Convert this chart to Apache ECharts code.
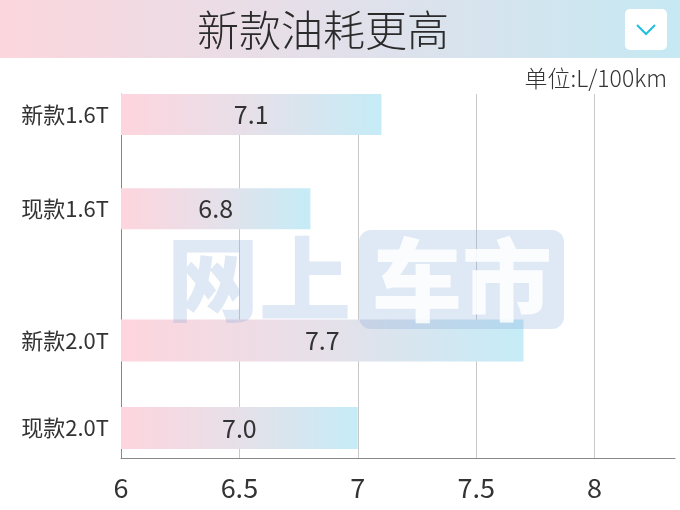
<!DOCTYPE html>
<html>
<head>
<meta charset="utf-8">
<script src="https://cdn.jsdelivr.net/npm/echarts@6/dist/echarts.min.js"></script>
<style>
html,body{margin:0;padding:0;background:#fff;}
#chart{width:680px;height:510px;}
</style>
</head>
<body>
<div id="chart"></div>
<script>
// ---- data ----
const title = '新款油耗更高';
const unitText = '单位:L/100km';
const categories16 = ['新款1.6T', '现款1.6T'];
const values16 = [7.1, 6.8];
const categories20 = ['新款2.0T', '现款2.0T'];
const values20 = [7.7, 7.0];
const axisMin = 6;
const axisMax = 8.34;
const axisInterval = 0.5;
const watermarkA = '网上';
const watermarkB = '车市';

const FONT = '"Noto Sans CJK SC", "Noto Sans", sans-serif';

const barGradient = new echarts.graphic.LinearGradient(0, 0, 1, 0, [
  { offset: 0, color: '#fed5de' },
  { offset: 0.5, color: '#e6e0e9' },
  { offset: 1, color: '#c5ecf7' }
]);

function hiddenValueX(gridIndex) {
  return {
    type: 'value', gridIndex: gridIndex, min: axisMin, max: axisMax, interval: axisInterval,
    show: false
  };
}
function catY(gridIndex, data) {
  return {
    type: 'category', gridIndex: gridIndex, data: data, inverse: true,
    axisLine: { show: false }, axisTick: { show: false }, splitLine: { show: false },
    axisLabel: { fontFamily: FONT, fontSize: 22, color: '#333', margin: 12 }
  };
}
const barLabel = {
  show: true, position: 'inside', fontFamily: FONT, fontSize: 25, color: '#333',
  formatter: function (p) { return Number(p.value).toFixed(1); }
};

const chart = echarts.init(document.getElementById('chart'), null, { renderer: 'canvas' });
chart.setOption({
  animation: false,
  backgroundColor: '#fff',
  grid: [
    { left: 121, right: 5, top: 67.4, height: 188.4 },
    { left: 121, right: 5, top: 296.8, height: 175 },
    { left: 121, right: 5, top: 94, height: 364 }
  ],
  xAxis: [
    hiddenValueX(0),
    hiddenValueX(1),
    {
      type: 'value', gridIndex: 2, min: axisMin, max: axisMax, interval: axisInterval,
      axisLine: { show: true, lineStyle: { color: '#888', width: 1 } },
      axisTick: { show: false },
      axisLabel: { fontFamily: FONT, fontSize: 27, color: '#333', margin: 16, showMaxLabel: false },
      splitLine: { show: true, showMinLine: false, showMaxLine: false, lineStyle: { color: '#c8c8c8', width: 1 } }
    }
  ],
  yAxis: [
    catY(0, categories16),
    catY(1, categories20),
    {
      type: 'value', gridIndex: 2, min: 0, max: 1,
      axisLine: { show: true, lineStyle: { color: '#888', width: 1 } },
      axisTick: { show: false }, axisLabel: { show: false }, splitLine: { show: false }
    }
  ],
  series: [
    {
      type: 'bar', xAxisIndex: 0, yAxisIndex: 0, data: values16, barWidth: 41,
      itemStyle: { color: barGradient }, label: barLabel, z: 3
    },
    {
      type: 'bar', xAxisIndex: 1, yAxisIndex: 1, data: values20, barWidth: 42,
      itemStyle: { color: barGradient }, label: barLabel, z: 3
    }
  ],
  graphic: [
    {
      type: 'rect', left: 0, top: 0, z: 0,
      shape: { width: 680, height: 58 },
      style: {
        fill: new echarts.graphic.LinearGradient(0, 0, 1, 0, [
          { offset: 0, color: '#fcd6dd' },
          { offset: 0.5, color: '#e2e0ea' },
          { offset: 1, color: '#c6e9f3' }
        ])
      }
    },
    {
      type: 'text', x: 323, y: 30, z: 5,
      style: { text: title, fontFamily: FONT, fontSize: 42, fontWeight: 300, fill: '#2b2b2b', align: 'center', verticalAlign: 'middle' }
    },
    {
      type: 'rect', x: 625, y: 9, z: 5,
      shape: { width: 42, height: 41, r: 5 },
      style: { fill: '#ffffff' }
    },
    {
      type: 'polyline', z: 6,
      shape: { points: [[637, 25], [646, 34], [655, 25]] },
      style: { stroke: '#1fbfe0', lineWidth: 2, fill: null }
    },
    {
      type: 'text', x: 667, y: 78, z: 5,
      style: { text: unitText, fontFamily: FONT, fontSize: 23, fontWeight: 300, fill: '#333', align: 'right', verticalAlign: 'middle' }
    },
    {
      type: 'text', x: 259, y: 279, z: 10,
      style: {
        text: watermarkA, fontFamily: FONT, fontSize: 92, fontWeight: 900,
        fill: 'rgba(130,165,215,0.26)', align: 'center', verticalAlign: 'middle'
      }
    },
    {
      type: 'rect', x: 359, y: 230, z: 10,
      shape: { width: 205, height: 99, r: 12 },
      style: { fill: 'rgba(130,165,215,0.26)' }
    },
    {
      type: 'text', x: 462, y: 280, z: 11,
      style: {
        text: watermarkB, fontFamily: FONT, fontSize: 90, fontWeight: 900,
        fill: 'rgba(255,255,255,0.85)', align: 'center', verticalAlign: 'middle'
      }
    }
  ]
});
</script>
</body>
</html>
